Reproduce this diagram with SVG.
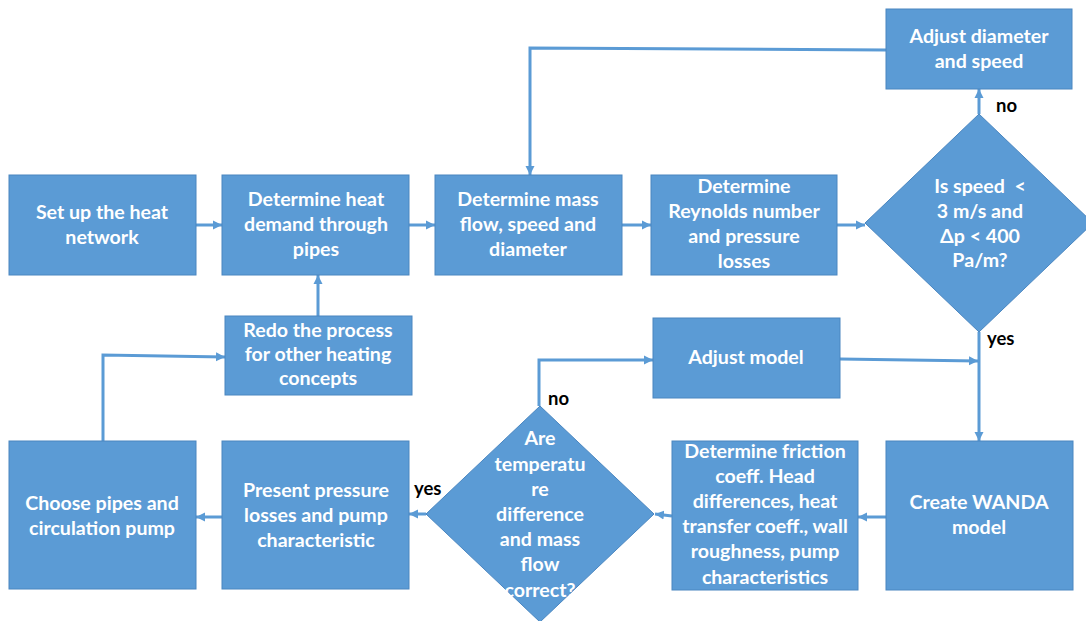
<svg xmlns="http://www.w3.org/2000/svg" width="1086" height="621" viewBox="0 0 1086 621">
<defs>
<marker id="ah" markerUnits="userSpaceOnUse" markerWidth="10" markerHeight="10" refX="9" refY="5" orient="auto">
<path d="M0,0.5 L9,5 L0,9.5 z" fill="#5B9BD5"/>
</marker>
<style>
.box{fill:#5B9BD5;stroke:#4A86C0;stroke-width:1}
.t{font-family:Lato,"Liberation Sans",sans-serif;font-weight:700;font-size:19.6px;fill:#ffffff;text-anchor:middle}
.lbl{font-family:Lato,"Liberation Sans",sans-serif;font-weight:700;font-size:18.5px;fill:#000000}
.c{fill:none;stroke:#5B9BD5;stroke-width:3;marker-end:url(#ah)}
</style>
</defs>
<rect width="1086" height="621" fill="#ffffff"/>
<g id="connectors">
<line class="c" x1="196" y1="225" x2="222" y2="225"/>
<line class="c" x1="409" y1="225" x2="435" y2="225"/>
<line class="c" x1="622" y1="225" x2="651" y2="225"/>
<line class="c" x1="837" y1="225" x2="865" y2="225"/>
<line class="c" x1="979" y1="114" x2="979" y2="89"/>
<polyline class="c" points="886,50 530,48 530,175"/>
<line class="c" x1="979" y1="332" x2="979" y2="441"/>
<line class="c" x1="840" y1="359" x2="978" y2="361"/>
<line class="c" x1="886" y1="517" x2="858" y2="517"/>
<line class="c" x1="672" y1="516" x2="655" y2="514"/>
<line class="c" x1="426" y1="514" x2="409" y2="514"/>
<polyline class="c" points="539,406 539,360 653,360"/>
<line class="c" x1="222" y1="517" x2="196" y2="517"/>
<polyline class="c" points="103,441 103,355 225,357"/>
<line class="c" x1="318" y1="316" x2="318" y2="275"/>
</g>
<g id="n-setup">
<rect class="box" x="9" y="175" width="187" height="100"/>
<text class="t" x="102" y="219">Set up the heat</text>
<text class="t" x="102" y="244">network</text>
</g>
<g id="n-heatdemand">
<rect class="box" x="222" y="175" width="187" height="100"/>
<text class="t" x="316" y="206">Determine heat</text>
<text class="t" x="316" y="231">demand through</text>
<text class="t" x="316" y="256">pipes</text>
</g>
<g id="n-massflow">
<rect class="box" x="435" y="175" width="187" height="100"/>
<text class="t" x="528" y="206">Determine mass</text>
<text class="t" x="528" y="231">flow, speed and</text>
<text class="t" x="528" y="256">diameter</text>
</g>
<g id="n-reynolds">
<rect class="box" x="651" y="175" width="186" height="100"/>
<text class="t" x="744" y="193">Determine</text>
<text class="t" x="744" y="218">Reynolds number</text>
<text class="t" x="744" y="243">and pressure</text>
<text class="t" x="744" y="268">losses</text>
</g>
<g id="n-speedcheck">
<polygon class="box" points="979,114 1093,223 979,332 865,223"/>
<text class="t" x="980" y="193" xml:space="preserve">Is speed  &lt;</text>
<text class="t" x="980" y="218">3 m/s and</text>
<text class="t" x="980" y="243">Δp &lt; 400</text>
<text class="t" x="980" y="267">Pa/m?</text>
</g>
<g id="n-adjustdiameter">
<rect class="box" x="886" y="9" width="186" height="80"/>
<text class="t" x="979" y="43">Adjust diameter</text>
<text class="t" x="979" y="68">and speed</text>
</g>
<g id="n-redo">
<rect class="box" x="225" y="316" width="187" height="79"/>
<text class="t" x="318" y="337">Redo the process</text>
<text class="t" x="318" y="361">for other heating</text>
<text class="t" x="318" y="385">concepts</text>
</g>
<g id="n-adjustmodel">
<rect class="box" x="653" y="318" width="187" height="80"/>
<text class="t" x="746" y="364">Adjust model</text>
</g>
<g id="n-wanda">
<rect class="box" x="886" y="441" width="187" height="149"/>
<text class="t" x="979" y="509">Create WANDA</text>
<text class="t" x="979" y="534">model</text>
</g>
<g id="n-friction">
<rect class="box" x="672" y="441" width="186" height="149"/>
<text class="t" x="765" y="458">Determine friction</text>
<text class="t" x="765" y="483">coeff. Head</text>
<text class="t" x="765" y="508">differences, heat</text>
<text class="t" x="765" y="533">transfer coeff., wall</text>
<text class="t" x="765" y="558">roughness, pump</text>
<text class="t" x="765" y="584">characteristics</text>
</g>
<g id="n-tempcheck">
<polygon class="box" points="540,406 654,514 540,622 426,514"/>
<text class="t" x="540" y="445">Are</text>
<text class="t" x="540" y="471">temperatu</text>
<text class="t" x="540" y="496">re</text>
<text class="t" x="540" y="521">difference</text>
<text class="t" x="540" y="546">and mass</text>
<text class="t" x="540" y="571">flow</text>
<text class="t" x="540" y="597">correct?</text>
</g>
<g id="n-present">
<rect class="box" x="222" y="441" width="187" height="148"/>
<text class="t" x="316" y="497">Present pressure</text>
<text class="t" x="316" y="522">losses and pump</text>
<text class="t" x="316" y="547">characteristic</text>
</g>
<g id="n-choose">
<rect class="box" x="9" y="441" width="187" height="148"/>
<text class="t" x="102" y="510">Choose pipes and</text>
<text class="t" x="102" y="535">circulation pump</text>
</g>
<g id="labels">
<text class="lbl" x="996" y="112">no</text>
<text class="lbl" x="987" y="345">yes</text>
<text class="lbl" x="548" y="405">no</text>
<text class="lbl" x="414" y="495">yes</text>
</g>
</svg>
